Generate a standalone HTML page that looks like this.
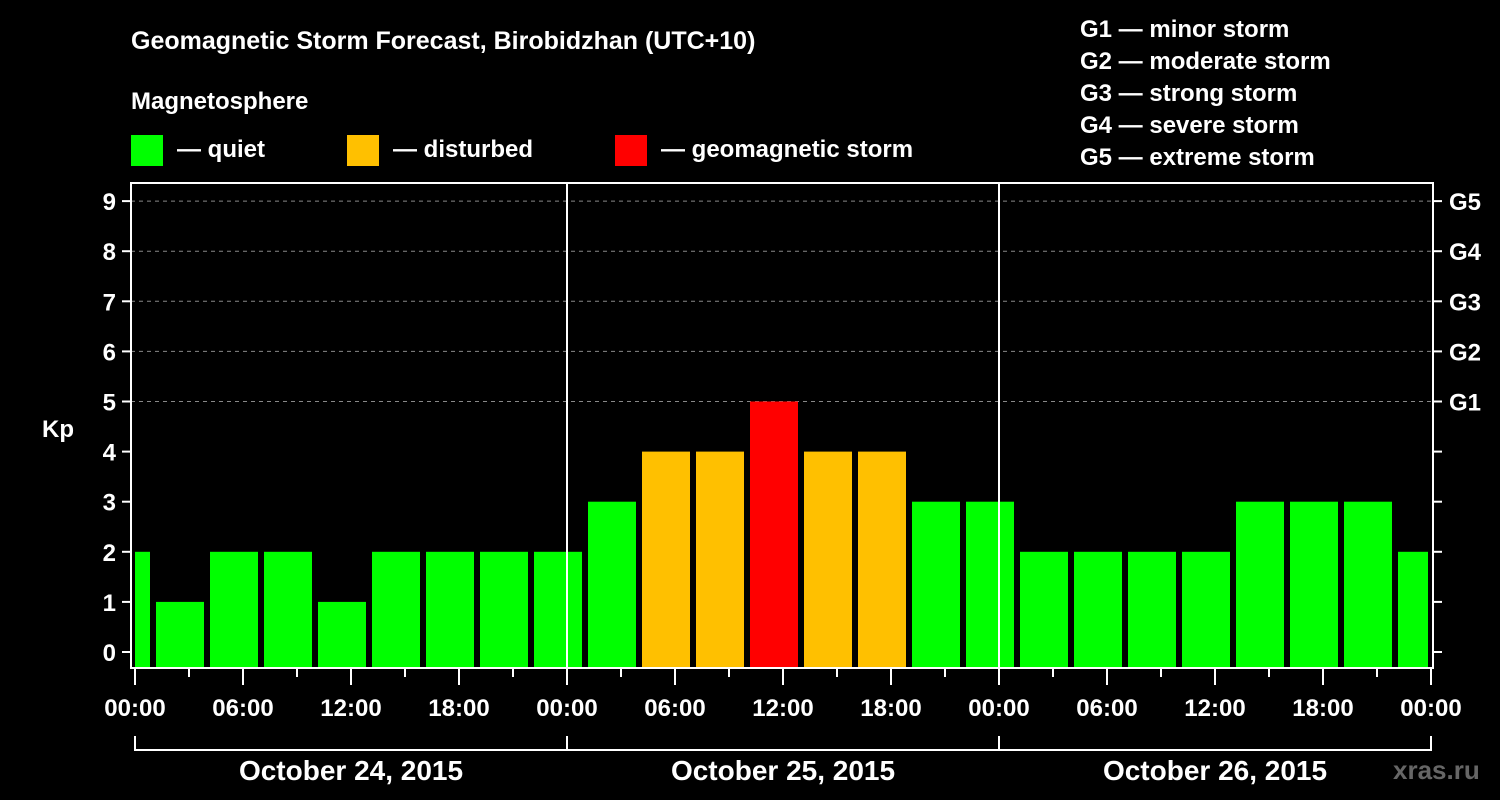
<!DOCTYPE html>
<html><head><meta charset="utf-8"><style>
html,body{margin:0;padding:0;background:#000;}
svg{display:block;font-family:"Liberation Sans",Arial,sans-serif;font-weight:bold;}
</style></head><body>
<svg id="chart" width="1500" height="800" viewBox="0 0 1500 800">
<text x="131" y="49" fill="#fff" font-size="25">Geomagnetic Storm Forecast, Birobidzhan (UTC+10)</text>
<text x="131" y="109" fill="#fff" font-size="24">Magnetosphere</text>
<g><rect x="131" y="135" width="32" height="31" fill="#00ff00"/><text x="177" y="157" fill="#fff" font-size="24">— quiet</text></g>
<g><rect x="347" y="135" width="32" height="31" fill="#ffc000"/><text x="393" y="157" fill="#fff" font-size="24">— disturbed</text></g>
<g><rect x="615" y="135" width="32" height="31" fill="#ff0000"/><text x="661" y="157" fill="#fff" font-size="24">— geomagnetic storm</text></g>
<g fill="#fff" font-size="24">
<text x="1080" y="37">G1 — minor storm</text>
<text x="1080" y="69">G2 — moderate storm</text>
<text x="1080" y="101">G3 — strong storm</text>
<text x="1080" y="133">G4 — severe storm</text>
<text x="1080" y="165">G5 — extreme storm</text>
</g>
<g id="plot"></g>
<text x="1393" y="779" fill="#666" font-size="26">xras.ru</text>
</svg>
<script>
const kpValues=[2,1,2,2,1,2,2,2,2,3,4,4,5,4,4,3,3,2,2,2,2,3,3,3,2];
const barStartHour=-0.5; // center of first bar, in hours from start
const yTicks=[0,1,2,3,4,5,6,7,8,9];
const gLabels=["G1","G2","G3","G4","G5"];
const gLevels=[5,6,7,8,9];
const xTickLabels=["00:00","06:00","12:00","18:00","00:00","06:00","12:00","18:00","00:00","06:00","12:00","18:00","00:00"];
const dayLabels=["October 24, 2015","October 25, 2015","October 26, 2015"];

const NS="http://www.w3.org/2000/svg";
const L=131,R=1433,T=183,B=668;
const x=h=>135+18*h;
const y=k=>652-50.1*k;
const g=document.getElementById('plot');
function mk(tag,attrs,parent){const e=document.createElementNS(NS,tag);for(const k in attrs)e.setAttribute(k,attrs[k]);(parent||g).appendChild(e);return e;}
function color(k){return k>=5?"#ff0000":k>=4?"#ffc000":"#00ff00";}
// grid
gLevels.forEach(k=>{const l=mk('line',{x1:L,x2:R,y1:y(k),y2:y(k),stroke:'#888','stroke-dasharray':'4,4','stroke-width':1});

});
// bars
kpValues.forEach((k,i)=>{const c=barStartHour+3*i;let x0=Math.max(x(c)-24,L+4),x1=Math.min(x(c)+24,R-5);
const r=mk('rect',{x:x0,y:y(k),width:x1-x0,height:B-1-y(k),fill:color(k)});

});
// day separators
[1,2].forEach(d=>{const l=mk('line',{x1:x(24*d),x2:x(24*d),y1:T,y2:B,stroke:'#fff','stroke-width':2});

});
// frame
const f=mk('rect',{x:L,y:T,width:R-L,height:B-T,fill:'none',stroke:'#fff','stroke-width':2});


// y ticks
yTicks.forEach(k=>{mk('line',{x1:122,x2:L,y1:y(k),y2:y(k),stroke:'#fff','stroke-width':2});
mk('line',{x1:R,x2:1442,y1:y(k),y2:y(k),stroke:'#fff','stroke-width':2});
const t=mk('text',{x:116,y:y(k)+9,fill:'#fff','font-size':24,'text-anchor':'end'});t.textContent=k;

});
gLabels.forEach((s,i)=>{const t=mk('text',{x:1449,y:y(gLevels[i])+9,fill:'#fff','font-size':24});t.textContent=s;

});
const kp=mk('text',{x:42,y:437,fill:'#fff','font-size':24});kp.textContent='Kp';


// x ticks
for(let h=0;h<=72;h+=3){const major=h%6===0;mk('line',{x1:x(h),x2:x(h),y1:B,y2:major?685:677,stroke:'#fff','stroke-width':2});}
xTickLabels.forEach((s,i)=>{const t=mk('text',{x:x(6*i),y:716,fill:'#fff','font-size':24,'text-anchor':'middle'});t.textContent=s;

});
// day brackets
mk('path',{d:`M${x(0)},736V750H${x(72)}V736`,fill:'none',stroke:'#fff','stroke-width':2});
[24,48].forEach(h=>mk('line',{x1:x(h),x2:x(h),y1:736,y2:750,stroke:'#fff','stroke-width':2}));
dayLabels.forEach((s,i)=>{const t=mk('text',{x:x(24*i+12),y:780,fill:'#fff','font-size':28,'text-anchor':'middle'});t.textContent=s;

});
</script>
</body></html>
